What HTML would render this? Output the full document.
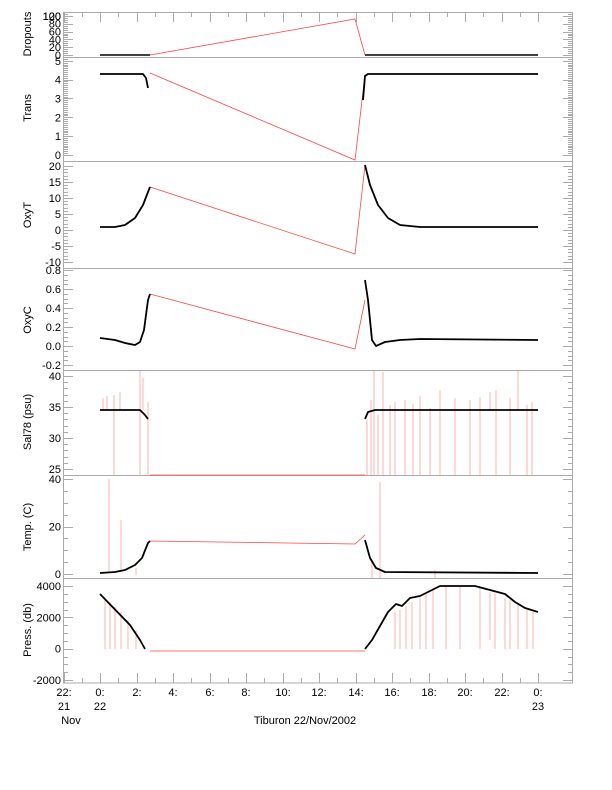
<!DOCTYPE html>
<html><head><meta charset="utf-8"><style>
body{margin:0;background:#fff}
text{font-family:"Liberation Sans",sans-serif;font-size:11px;fill:#000}
</style></head><body>
<svg width="612" height="785" xmlns="http://www.w3.org/2000/svg">
<g id="frames" stroke="#aaa" fill="none" stroke-width="1">
<rect x="63.5" y="12.5" width="509" height="670.5"/>
<line x1="63" y1="57.5" x2="573" y2="57.5"/>
<line x1="63" y1="161.5" x2="573" y2="161.5"/>
<line x1="63" y1="268.5" x2="573" y2="268.5"/>
<line x1="63" y1="370.5" x2="573" y2="370.5"/>
<line x1="63" y1="475.5" x2="573" y2="475.5"/>
<line x1="63" y1="578.5" x2="573" y2="578.5"/>
</g>
<g id="ticks" stroke="#aaa" stroke-width="1"></g>
<g id="labels" text-anchor="end"></g>
<g text-anchor="middle" transform="rotate(-90)">
<text x="-34" y="31">Dropouts</text>
<text x="-108" y="31">Trans</text>
<text x="-215" y="31">OxyT</text>
<text x="-320" y="31">OxyC</text>
<text x="-422" y="31">Sal78 (psu)</text>
<text x="-527" y="31">Temp. (C)</text>
<text x="-630" y="31">Press. (db)</text>
</g>
<g text-anchor="middle">
<text x="64" y="696">22:</text><text x="64" y="710">21</text><text x="71" y="724">Nov</text>
<text x="100" y="696">0:</text><text x="100" y="710">22</text>
<text x="137" y="696">2:</text><text x="173" y="696">4:</text><text x="210" y="696">6:</text><text x="246" y="696">8:</text>
<text x="283" y="696">10:</text><text x="319" y="696">12:</text><text x="356" y="696">14:</text><text x="392" y="696">16:</text>
<text x="429" y="696">18:</text><text x="465" y="696">20:</text><text x="502" y="696">22:</text>
<text x="538" y="696">0:</text><text x="538" y="710">23</text>
<text x="305" y="724">Tiburon 22/Nov/2002</text>
</g>
<g stroke="#f44" stroke-width="0.8" fill="none">
<polyline points="150,55 355,19 365,55"/>
<polyline points="150,73 355,160 365,75"/>
<polyline points="150,187 355,254 365,165"/>
<polyline points="150,294 355,349 365,300"/>
<polyline points="150,475 365,475"/>
<polyline points="150,541 355,544 365,535"/>
<polyline points="150,651 365,651"/>
</g>
<g stroke="#f66" stroke-width="0.5" fill="none">
<path d="M103,398V410M107,396V410M114,395V475M120,392V410M140,370V475M143,378V410M148,402V475M367,420V475M371,400V475M374,370V475M378,415V475M383,372V475M390,405V475M395,402V475M405,400V475M413,404V475M420,396V475M430,408V475M440,390V475M455,398V475M470,400V475M480,397V475M490,392V410M496,390V475M510,398V475M518,370V410M527,405V475M532,402V475"/>
<path d="M109,479V572M121,520V572M136,568V575M372,560V578M380,482V578M435,570V578"/>
<path d="M105,598V649M110,602V649M115,607V649M121,612V649M128,620V649M136,630V649M395,612V649M400,610V649M406,606V649M412,602V649M420,598V649M426,593V649M433,588V649M446,586V649M460,586V649M480,588V649M490,592V640M495,594V649M505,598V649M510,600V649M518,605V649M527,610V649M533,612V649"/>
</g>
<g stroke="#000" stroke-width="1.8" fill="none" stroke-linejoin="round">
<polyline stroke-width="1.5" points="100,55 150,55"/><polyline stroke-width="1.5" points="365,55 538,55"/>
<polyline points="100,74 143,74 146,78 148,88"/><polyline points="363,100 365,76 368,74 538,74"/>
<polyline points="100,227 115,227 125,225 135,218 143,205 148,192 150,187"/>
<polyline points="365,165 370,185 378,205 388,218 400,225 420,227 538,227"/>
<polyline points="100,338 115,340 125,343 135,345 140,342 144,330 148,300 150,294"/>
<polyline points="365,280 368,300 372,340 376,346 385,342 400,340 420,339 538,340"/>
<polyline points="100,410 140,410 145,415 148,419"/><polyline points="365,419 368,412 375,410 538,410"/>
<polyline points="100,573 115,572 125,570 135,565 142,558 148,543 150,541"/>
<polyline points="365,540 370,558 376,568 385,572 538,573"/>
<polyline points="100,594 130,625 140,640 145,649"/>
<polyline points="365,649 372,640 388,612 396,604 402,606 410,598 420,596 432,590 440,586 475,586 490,590 505,594 515,602 525,608 538,612"/>
</g>
<script>
var T=document.getElementById('ticks'),L=document.getElementById('labels'),ns='http://www.w3.org/2000/svg';
function tk(x1,y1,x2,y2){var l=document.createElementNS(ns,'line');l.setAttribute('x1',x1);l.setAttribute('y1',y1);l.setAttribute('x2',x2);l.setAttribute('y2',y2);T.appendChild(l);}
function lb(x,y,s){var t=document.createElementNS(ns,'text');t.setAttribute('x',x);t.setAttribute('y',y);t.textContent=s;L.appendChild(t);}
function ax(top,bot,v0,v1,major,minor,labs,fmt){var s=(bot-top)/(v1-v0);
 for(var v=v0;v<=v1+1e-9;v+=minor){var y=Math.round(bot-(v-v0)*s)+0.5;var m=Math.abs(v/major-Math.round(v/major))<1e-6;var len=m?10:5;tk(63,y,63+len,y);tk(573-len,y,573,y);}
 labs.forEach(function(v){lb(61,bot-(v-v0)*s+4,fmt?v.toFixed(1):String(v));});}
ax(12,55,0,110,20,5,[0,20,40,60,80,100]);lb(61,20,'120');
ax(57,155,0,5.2,1,0.1,[0,1,2,3,4,5]);
ax(166,262,-10,20,5,1,[-10,-5,0,5,10,15,20]);
ax(270,365,-0.2,0.8,0.2,0.05,[-0.2,0,0.2,0.4,0.6,0.8],true);
ax(376,469,25,40,5,1,[25,30,35,40]);
ax(479,574,0,40,20,5,[0,20,40]);
ax(586,680,-2000,4000,2000,500,[-2000,0,2000,4000]);
for(var h=0;h<=26;h++){var x=Math.round(63.5+h*18.25)+0.5;var len=h%2==0?10:5;tk(x,683,x,683-len);tk(x,12,x,12+len);}
</script>
</svg>
</body></html>
